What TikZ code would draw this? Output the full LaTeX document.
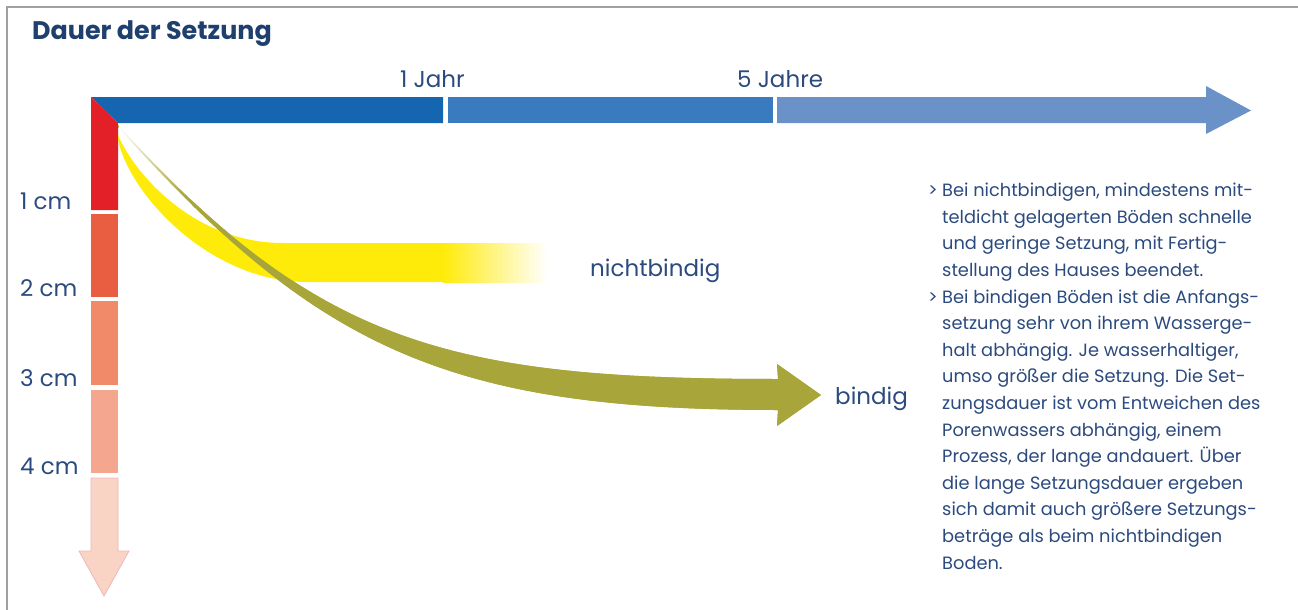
\documentclass[tikz,border=0pt]{standalone}
\usepackage{fontspec}
\setmainfont{Poppins}
\newfontfamily\bodyf{Poppins}
\usetikzlibrary{fadings}
\definecolor{txt}{HTML}{2B4A7E}
\definecolor{ttl}{HTML}{1F3F6F}
\definecolor{bA}{HTML}{1565B0}
\definecolor{bB}{HTML}{3A7BBF}
\definecolor{bC}{HTML}{6A92C9}
\definecolor{rA}{HTML}{E32027}
\definecolor{rB}{HTML}{E95E40}
\definecolor{rC}{HTML}{F08A68}
\definecolor{rD}{HTML}{F4A78E}
\definecolor{rE}{HTML}{F9D3C3}
\definecolor{rEe}{HTML}{F0B4BC}
\definecolor{yel}{HTML}{FFEB0A}
\definecolor{oli}{HTML}{A8A63A}
\definecolor{frame}{HTML}{A0A0A0}
\tikzfading[name=whiteout, left color=transparent!0, right color=transparent!100]
\tikzset{
  lbl/.style={inner sep=0pt, anchor=base west, text=txt, font=\fontsize{23}{27}\selectfont},
  body/.style={inner sep=0pt, anchor=base west, text=txt, font=\bodyf\fontsize{17.8}{21}\selectfont},
  olipath/.style={oli},
}
\begin{document}
\begin{tikzpicture}[x=1pt,y=-1pt]
\useasboundingbox (0,0) rectangle (1298,610);
\draw[frame, line width=1.5pt] (7,610) -- (7,7) -- (1298,7);
% title
\node[inner sep=0pt, anchor=base west, text=ttl, font=\bfseries\fontsize{25.4}{30}\selectfont] (title) at (32,40) {Dauer der Setzung};
% horizontal time axis
\fill[bA] (91,97) -- (443,97) -- (443,123) -- (118,123) -- cycle;
\fill[bB] (448,97) rectangle (773,123);
\fill[bC] (777,97) -- (1206,97) -- (1206,86) -- (1251,110.5) -- (1206,134) -- (1206,123) -- (777,123) -- cycle;
% vertical settlement axis
\fill[rA] (91,97) -- (118,123) -- (118,210) -- (91,210) -- cycle;
\fill[rB] (91,214) rectangle (118,297);
\fill[rC] (91,301) rectangle (118,385);
\fill[rD] (91,390) rectangle (118,473);
\filldraw[fill=rE, draw=rEe, line width=0.8pt] (91,478) -- (118,478) -- (118,551) -- (129,551) -- (104,596) -- (79,551) -- (91,551) -- cycle;
% olive band (bindig), first pass with faded start
\def\olishape{(118,125) .. controls (318,345) and (450,379) .. (778,379)
  -- (777,364) -- (821,395) -- (777,426) -- (778,410)
  .. controls (450,410) and (318,350) .. (118,127) -- cycle}
\fill[oli] \olishape;
\fill[white, path fading=whiteout] (118.6,123.6) rectangle (185,240);
% yellow band (nichtbindig)
\fill[yel] (118,135) .. controls (135,175) and (195,243) .. (283,243) -- (444,243) -- (444,282) -- (307,282) .. controls (210,282) and (130,195) .. (118,140) -- cycle;
\shade[left color=yel, right color=white, draw=none] (443,243) rectangle (547,282);
% olive band on top of the yellow
\begin{scope}
\clip (192,150) rectangle (830,440);
\fill[oli] \olishape;
\end{scope}
% labels
\node[lbl] (c1) at (20,209) {1 cm};
\node[lbl] (c2) at (20,296) {2 cm};
\node[lbl] (c3) at (20,386) {3 cm};
\node[lbl] (c4) at (20,474) {4 cm};
\node[lbl] (j1) at (400,87) {1 Jahr};
\node[lbl] (j5) at (737,87) {5 Jahre};
\node[lbl] (nb) at (590,276) {nichtbindig};
\node[lbl] (bd) at (835,404) {bindig};
% text
\node[body] (g1) at (928,196.7) {>};
\node[body] (g2) at (928,303) {>};
\foreach \i/\t in {1/{Bei nichtbindigen, mindestens mit-},
  2/{teldicht gelagerten Böden schnelle},
  3/{und geringe Setzung, mit Fertig-},
  4/{stellung des Hauses beendet.},
  5/{Bei bindigen Böden ist die Anfangs-},
  6/{setzung sehr von ihrem Wasserge-},
  7/{halt abhängig. Je wasserhaltiger,},
  8/{umso größer die Setzung. Die Set-},
  9/{zungsdauer ist vom Entweichen des},
  10/{Porenwassers abhängig, einem},
  11/{Prozess, der lange andauert. Über},
  12/{die lange Setzungsdauer ergeben},
  13/{sich damit auch größere Setzungs-},
  14/{beträge als beim nichtbindigen},
  15/{Boden.}}
  \node[body] (t\i) at (942,{196.7+26.6*(\i-1)}) {\t};
\end{tikzpicture}
\end{document}
